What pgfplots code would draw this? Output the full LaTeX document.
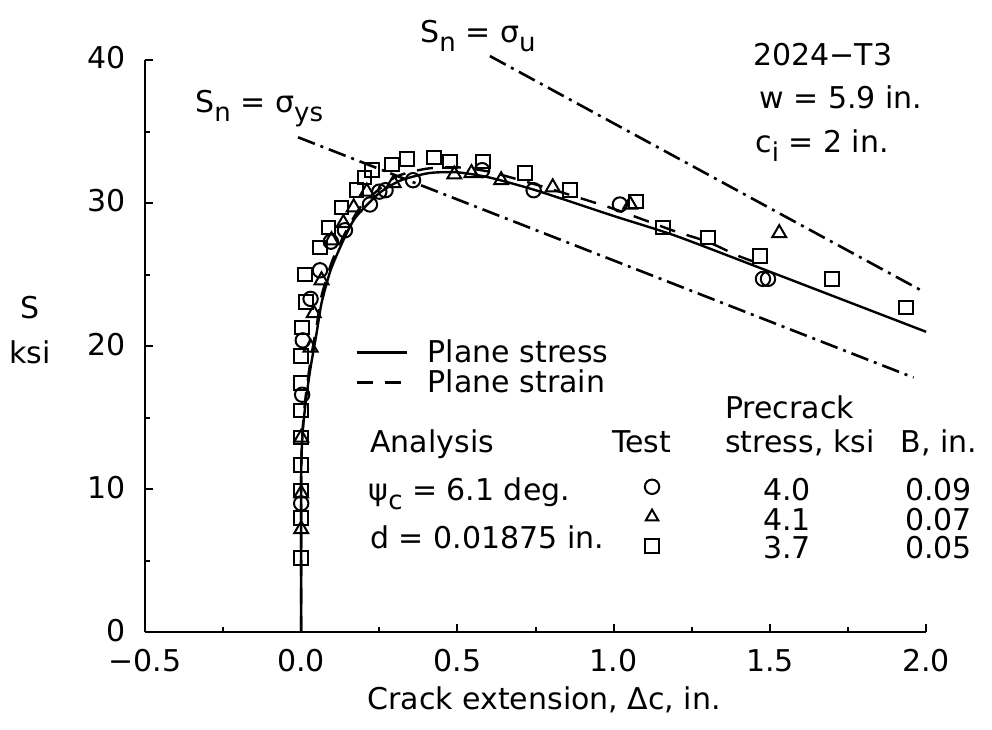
\documentclass[border=0pt]{standalone}
\usepackage{fontspec}
\setmainfont{DejaVu Sans}
\usepackage{pgfplots}
\pgfplotsset{compat=1.18}
\newcommand\sub[1]{\raisebox{-0.6ex}{\fontsize{13}{13}\selectfont #1}}
\newcommand\keymark[1]{\tikz[baseline=-0.6ex]\path[draw=black,line width=1pt,mark size=3.6pt] plot[mark=#1] coordinates {(0,0)};}
\tikzset{dashdot/.style={black, line width=1.3pt, dash pattern=on 9pt off 3pt on 1.5pt off 3pt}}
\begin{document}
\begin{tikzpicture}[font=\fontsize{15}{18}\selectfont]
\begin{axis}[
  scale only axis, width=390.5pt, height=286pt,
  xmin=-0.5, xmax=2.0, ymin=0, ymax=40,
  axis lines=left, axis line style={-, line width=1pt},
  tick align=inside,
  xtick={-0.5,0,0.5,1,1.5,2}, xticklabels={−0.5,0.0,0.5,1.0,1.5,2.0},
  minor xtick={-0.25,0.25,0.75,1.25,1.75},
  ytick={0,10,20,30,40}, minor ytick={5,15,25,35},
  major tick length=4pt, minor tick length=2.5pt,
  every tick/.style={black, line width=1pt},
  /pgf/number format/assume math mode=true,
  yticklabel style={xshift=-6pt, yshift=1pt},
  xticklabel style={yshift=-5pt},
  xlabel={Crack extension, Δc, in.},
  xlabel style={at={(axis description cs:0.511,-0.119)}, anchor=center},
  ylabel={S\\[4pt]ksi},
  ylabel style={rotate=-90, at={(axis description cs:-0.147,0.528)}, anchor=center, align=center},
  clip=false,
  legend style={draw=none, fill=none, at={(0.269,0.519)}, anchor=north west,
    font=\fontsize{15}{18}\selectfont, inner sep=0pt, row sep=-2pt, cells={anchor=west}},
  legend image code/.code={\draw[#1] (0pt,0pt) -- (25pt,0pt); \path (33pt,0pt);},
]
% bounding frame
\path (axis cs:-0.964,-6.78) rectangle (axis cs:2.211,44.2);

% plane stress
\addplot[black, line width=1.2pt, smooth, tension=0.4] coordinates {
 (0,0) (0,11) (0.005,14) (0.015,16.2) (0.03,18.5) (0.05,21) (0.065,23) (0.094,25.3)
 (0.135,27.4) (0.174,29.0) (0.25,30.7) (0.32,31.6) (0.41,32.1) (0.5,32.15) (0.6,31.8)
 (0.75,30.9) (1.0,29.1) (1.2,27.7) (1.5,25.2) (1.75,23.1) (2.0,21.0)};
\addlegendentry{Plane stress}
% plane strain
\addplot[black, line width=1.2pt, dash pattern=on 8pt off 6pt, smooth, tension=0.4] coordinates {
 (0,0) (0,11) (0.005,14.3) (0.015,16.6) (0.03,19) (0.05,21.5) (0.065,23.5) (0.1,26)
 (0.15,28.3) (0.2,30.0) (0.3,31.8) (0.4,32.4) (0.5,32.5) (0.6,32.2) (0.75,31.3)
 (0.9,30.3) (1.0,29.6) (1.1,28.8) (1.2,28.0) (1.3,27.3) (1.4,26.3) (1.45,25.9)};
\addlegendentry{Plane strain}

% net section lines
\addplot[dashdot, forget plot] coordinates {(-0.01,34.6) (1.96,17.8)};
\addplot[dashdot, forget plot] coordinates {(0.604,40.28) (1.994,23.78)};

% test data: circles B=0.09
\addplot[only marks, mark=o, mark size=3.6pt, black, line width=1pt, forget plot] coordinates {
 (0.0,9.0) (0.003,16.6) (0.005,20.4) (0.03,23.3) (0.06,25.3) (0.095,27.3) (0.14,28.1)
 (0.22,29.9) (0.25,30.8) (0.27,30.9) (0.358,31.6) (0.579,32.3) (0.744,30.9)
 (1.02,29.9) (1.478,24.7) (1.494,24.7)};
% triangles B=0.07
\addplot[only marks, mark=triangle, mark size=4pt, black, line width=1pt, forget plot] coordinates {
 (0.0,7.2) (0.0,9.7) (0.0,13.6) (0.03,19.9) (0.04,22.3) (0.065,24.6) (0.097,27.4)
 (0.135,28.6) (0.168,29.7) (0.21,30.8) (0.296,31.4) (0.49,32.0) (0.545,32.1)
 (0.64,31.6) (0.805,31.1) (1.053,29.9) (1.53,27.9)};
% squares B=0.05
\addplot[only marks, mark=square, mark size=3.4pt, black, line width=1pt, forget plot] coordinates {
 (0.0,5.2) (0.0,8.0) (0.0,9.9) (0.0,11.7) (0.0,13.6) (0.0,15.5) (0.0,17.4) (0.0,19.3)
 (0.003,21.3) (0.016,23.1) (0.013,25.0) (0.06,26.9) (0.087,28.3) (0.129,29.7)
 (0.177,30.9) (0.203,31.8) (0.226,32.3) (0.29,32.7) (0.338,33.1) (0.425,33.2)
 (0.477,32.9) (0.582,32.9) (0.717,32.1) (0.86,30.9) (1.072,30.1) (1.158,28.3)
 (1.302,27.6) (1.469,26.3) (1.699,24.7) (1.936,22.7)};

% annotations
\node[anchor=base west, inner sep=0pt] at (axis cs:-0.340,36.36) {S\sub{n} = σ\sub{ys}};
\node[anchor=base west, inner sep=0pt] at (axis cs:0.380,41.26) {S\sub{n} = σ\sub{u}};
\node[anchor=base west, inner sep=0pt] at (axis cs:1.446,39.65) {2024−T3};
\node[anchor=base west, inner sep=0pt] at (axis cs:1.465,36.64) {w = 5.9 in.};
\node[anchor=base west, inner sep=0pt] at (axis cs:1.452,33.57) {c\sub{i} = 2 in.};

\node[anchor=base west, inner sep=0pt] at (axis cs:0.220,12.59) {Analysis};
\node[anchor=base west, inner sep=0pt] at (axis cs:0.214,9.23) {ψ\sub{c} = 6.1 deg.};
\node[anchor=base west, inner sep=0pt] at (axis cs:0.220,5.87) {d = 0.01875 in.};

\node[anchor=base west, inner sep=0pt] at (axis cs:0.994,12.59) {Test};
\node[inner sep=0pt] at (axis cs:1.123,10.07) {\keymark{o}};
\node[inner sep=0pt] at (axis cs:1.123,7.97) {\keymark{triangle}};
\node[inner sep=0pt] at (axis cs:1.123,5.94) {\keymark{square}};

\node[anchor=base west, inner sep=0pt] at (axis cs:1.356,14.97) {Precrack};
\node[anchor=base west, inner sep=0pt] at (axis cs:1.356,12.59) {stress, ksi};
\node[anchor=base, inner sep=0pt] at (axis cs:1.555,9.23) {4.0};
\node[anchor=base, inner sep=0pt] at (axis cs:1.555,7.13) {4.1};
\node[anchor=base, inner sep=0pt] at (axis cs:1.555,5.17) {3.7};

\node[anchor=base west, inner sep=0pt] at (axis cs:1.917,12.59) {B, in.};
\node[anchor=base west, inner sep=0pt] at (axis cs:1.932,9.23) {0.09};
\node[anchor=base west, inner sep=0pt] at (axis cs:1.932,7.13) {0.07};
\node[anchor=base west, inner sep=0pt] at (axis cs:1.932,5.17) {0.05};
\end{axis}
\end{tikzpicture}
\end{document}
